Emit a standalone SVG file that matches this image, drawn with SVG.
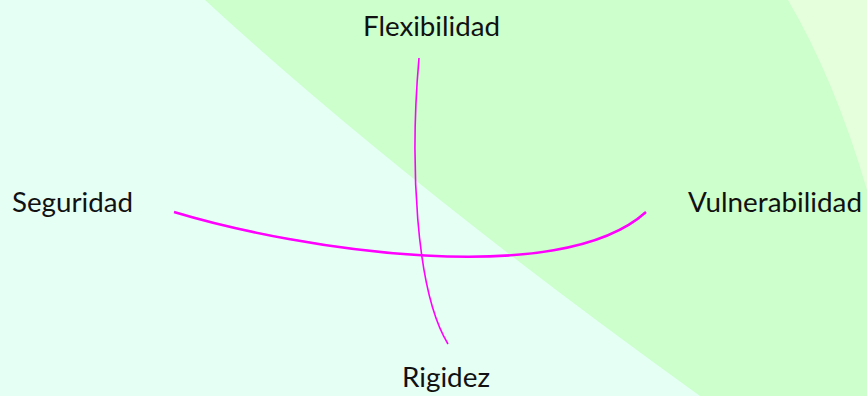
<svg xmlns="http://www.w3.org/2000/svg" width="867" height="396" viewBox="0 0 867 396">
<style>
.lbl{font-family:Lato,"Open Sans","Liberation Sans",sans-serif;font-size:26px;fill:#111;}
.con{fill:none;stroke:#ff00ff;}
</style>
<g id="background">
<rect x="0" y="0" width="867" height="396" fill="#e6fff5"/>
<path d="M205,0 Q400,180 700,396 L867,396 L867,0 Z" fill="#ccffcc"/>
<path d="M788,0 Q835,80 867,190 L867,0 Z" fill="#e5ffdc"/>
</g>
<g id="connectors">
<path class="con" stroke-width="2.5" d="M174,212 C300,250 560,290 646,212"/>
<path class="con" stroke-width="1.6" d="M419,58 C410,160 415,290 448,344"/>
</g>
<g id="node-flexibilidad"><text class="lbl" x="363" y="36" textLength="137" lengthAdjust="spacingAndGlyphs">Flexibilidad</text></g>
<g id="node-seguridad"><text class="lbl" x="12" y="212" textLength="121" lengthAdjust="spacingAndGlyphs">Seguridad</text></g>
<g id="node-vulnerabilidad"><text class="lbl" x="688" y="212" textLength="174" lengthAdjust="spacingAndGlyphs">Vulnerabilidad</text></g>
<g id="node-rigidez"><text class="lbl" x="402" y="387" textLength="88" lengthAdjust="spacingAndGlyphs">Rigidez</text></g>
</svg>
